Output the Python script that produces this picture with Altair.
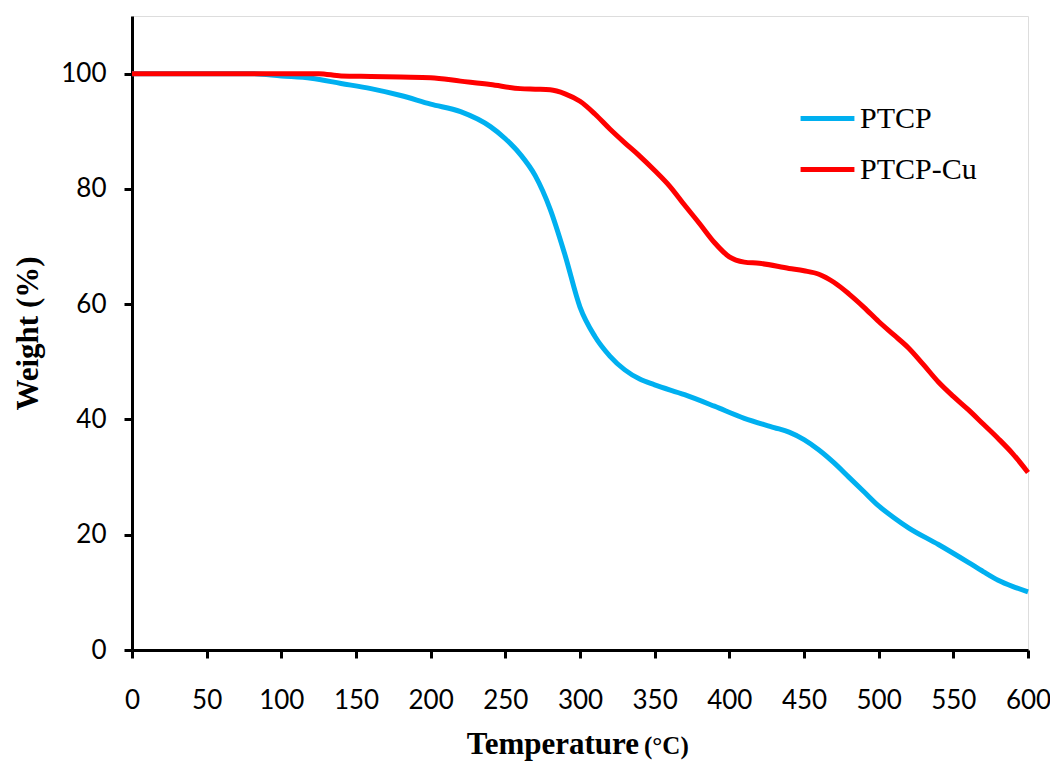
import altair as alt
import pandas as pd

ptcp_t = [0, 20, 40, 60, 80, 100, 120, 140, 160, 180, 200, 220, 240, 250, 260, 270, 280, 290,
          300, 310, 320, 330, 340, 350, 370, 390, 410, 430, 440, 450, 460, 470, 480, 490, 500,
          510, 520, 540, 560, 570, 580, 590, 600]
ptcp_w = [100, 100, 100, 100, 100, 99.6, 99.2, 98.3, 97.4, 96.2, 94.7, 93.4, 90.8, 88.7, 86,
          82.3, 76.5, 68.5, 59.5, 54.4, 51, 48.6, 47, 46, 44.3, 42.3, 40.2, 38.6, 37.8, 36.5,
          34.7, 32.5, 30, 27.5, 25, 23, 21.2, 18.3, 15.2, 13.6, 12.1, 11, 10.1]

cu_t = [0, 50, 100, 125, 140, 160, 180, 200, 220, 240, 260, 270, 280, 290, 300, 310, 320, 330,
        340, 350, 360, 370, 380, 390, 400, 410, 420, 440, 450, 460, 470, 480, 490, 500, 510,
        520, 530, 540, 550, 560, 570, 580, 590, 600]
cu_w = [100, 100, 100, 100, 99.6, 99.5, 99.4, 99.3, 98.7, 98.1, 97.4, 97.3, 97.2, 96.5, 95.2,
        93, 90.4, 88, 85.7, 83.2, 80.5, 77.2, 74, 70.7, 68.2, 67.3, 67.1, 66.2, 65.8, 65.2,
        63.8, 61.8, 59.5, 57, 54.7, 52.4, 49.5, 46.5, 44, 41.7, 39.2, 36.7, 34, 30.8]

series_names = ["PTCP", "PTCP-Cu"]
series_colors = ["#00B0F0", "#FF0000"]

df = pd.concat([
    pd.DataFrame({"T": ptcp_t, "W": ptcp_w, "Sample": series_names[0]}),
    pd.DataFrame({"T": cu_t, "W": cu_w, "Sample": series_names[1]}),
])

W_PLOT, H_PLOT = 896, 634

lines = alt.Chart(df).mark_line(strokeWidth=5, interpolate="monotone").encode(
    x=alt.X("T:Q",
            scale=alt.Scale(domain=[0, 600], nice=False, zero=False),
            axis=alt.Axis(values=list(range(0, 601, 50)), title=None, grid=False,
                          domainColor="black", domainWidth=3, tickColor="black",
                          tickWidth=3, tickSize=8, labelFont="Lato", labelFontSize=26,
                          labelColor="black", labelPadding=29, labelFlush=False)),
    y=alt.Y("W:Q",
            scale=alt.Scale(domain=[0, 110], nice=False),
            axis=alt.Axis(values=list(range(0, 101, 20)), title="Weight (%)", grid=False,
                          domainColor="black", domainWidth=3, tickColor="black",
                          tickWidth=3, tickSize=8, labelFont="Lato", labelFontSize=26,
                          labelColor="black", labelPadding=18,
                          titleFont="Liberation Serif", titleFontSize=31,
                          titleFontWeight="bold", titleColor="black", titlePadding=16)),
    color=alt.Color("Sample:N",
                    scale=alt.Scale(domain=series_names, range=series_colors),
                    legend=alt.Legend(title=None, orient="none", legendX=666, legendY=73,
                                      symbolType="stroke", symbolSize=2900,
                                      symbolStrokeWidth=5, labelFont="Liberation Serif",
                                      labelFontSize=30, labelColor="black",
                                      labelOffset=3, rowPadding=6, labelLimit=300)),
)

title_main = alt.Chart(pd.DataFrame({"t": ["Temperature"]})).mark_text(
    font="Liberation Serif", fontSize=31, fontWeight="bold", align="right",
    baseline="alphabetic", color="black"
).encode(text="t:N", x=alt.value(507), y=alt.value(738))

title_unit = alt.Chart(pd.DataFrame({"t": ["(°C)"]})).mark_text(
    font="Liberation Serif", fontSize=25, fontWeight="bold", align="left",
    baseline="alphabetic", color="black"
).encode(text="t:N", x=alt.value(512), y=alt.value(738))

chart = alt.layer(lines, title_main, title_unit).properties(
    width=W_PLOT, height=H_PLOT,
    autosize=alt.AutoSizeParams(type="none"),
    padding={"left": 124, "top": 8, "right": 22, "bottom": 111},
).configure_view(stroke=None).configure(background="white")

chart.save("out.html", embed_options={"renderer": "svg", "actions": False})
